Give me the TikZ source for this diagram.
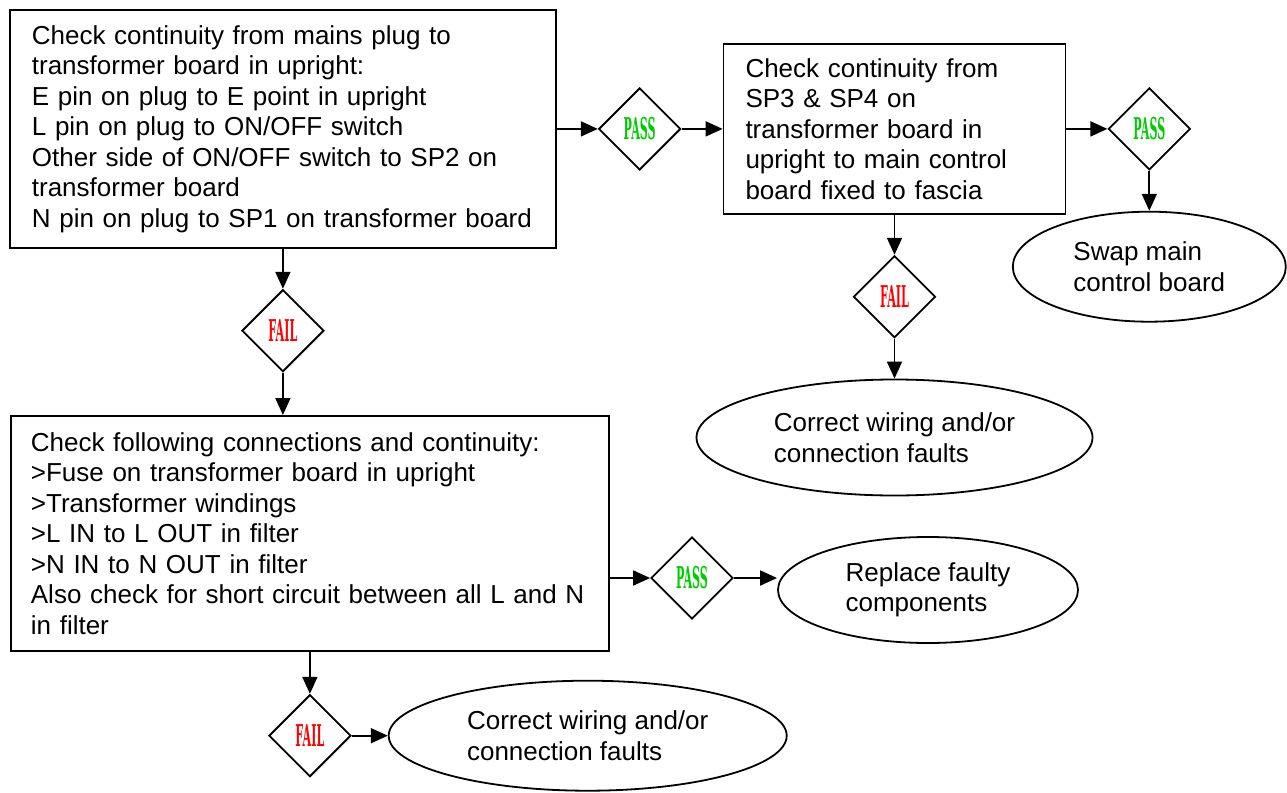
\documentclass[tikz,border=0pt]{standalone}
\usepackage{fontspec}
\setmainfont{Liberation Sans}
\newfontfamily\verdictfont{DejaVu Serif}
\usepackage{graphicx}
\usetikzlibrary{shapes.geometric, arrows.meta, positioning}
\usepackage{xcolor}
\definecolor{passgreen}{RGB}{0,204,0}
\definecolor{failred}{RGB}{255,0,0}
\newcommand{\verdict}[2]{\textcolor{#1}{\scalebox{0.37}[1]{\verdictfont\bfseries #2}}}

\begin{document}
\begin{tikzpicture}[
  x=1pt, y=-1pt,
  line width=1.8pt,
  node distance=41pt,
  check/.style={rectangle, draw, align=left, inner xsep=22pt, inner ysep=0pt, font=\fontsize{26}{30.5}\selectfont},
  decision/.style={diamond, draw, aspect=1, minimum width=82pt, minimum height=82pt, inner sep=0pt, font=\fontsize{30}{30}\selectfont},
  outcome/.style={ellipse, draw, align=left, inner sep=0pt, font=\fontsize{26}{30.5}\selectfont},
  >={Triangle[length=17pt, width=15pt]}
]
\useasboundingbox (0,0) rectangle (1287,792);

\node[check, anchor=north west, text width=502pt, minimum height=238pt] (mains) at (9,9)
  {Check continuity from mains plug to\\transformer board in upright:\\E pin on plug to E point in upright\\L pin on plug to ON/OFF switch\\Other side of ON/OFF switch to SP2 on\\transformer board\\N pin on plug to SP1 on transformer board};
\node[decision, right=of mains] (pass1) {\verdict{passgreen}{PASS}};
\node[check, right=of pass1, text width=298pt, minimum height=170pt] (spcheck)
  {Check continuity from\\SP3 \& SP4 on\\transformer board in\\upright to main control\\board fixed to fascia};
\node[decision, right=of spcheck] (pass2) {\verdict{passgreen}{PASS}};
\node[outcome, below=40pt of pass2, minimum width=273pt, minimum height=110pt] (swap) {Swap main\\control board};

\node[decision, below=40pt of spcheck] (fail2) {\verdict{failred}{FAIL}};
\node[outcome, below=40pt of fail2, minimum width=396pt, minimum height=116pt] (wiring1) {Correct wiring and/or\\connection faults};

\node[decision, below=40pt of mains] (fail1) {\verdict{failred}{FAIL}};
\node[check, anchor=north west, inner xsep=20pt, text width=558pt, minimum height=235pt] (filter) at (10,415)
  {Check following connections and continuity:\\>Fuse on transformer board in upright\\>Transformer windings\\>L IN to L OUT in filter\\>N IN to N OUT in filter\\Also check for short circuit between all L and N\\in filter};

\node[decision] (pass3) at (692,578) {\verdict{passgreen}{PASS}};
\node[outcome, minimum width=300pt, minimum height=106pt] (replace) at (928,590) {Replace faulty\\components};

\node[decision, below=42pt of filter] (fail3) {\verdict{failred}{FAIL}};
\node[outcome, right=36pt of fail3, minimum width=398pt, minimum height=110pt] (wiring2) {Correct wiring and/or\\connection faults};

\draw[->] (mains) -- (pass1);
\draw[->] (pass1) -- (spcheck);
\draw[->] (spcheck.east |- pass2) -- (pass2);
\draw[->] (pass2) -- (swap);
\draw[->] (spcheck) -- (fail2);
\draw[->] (fail2) -- (wiring1);

\draw[->] (mains) -- (fail1);
\draw[->] (fail1) -- (fail1 |- filter.north);
\draw[->] (filter.east |- pass3) -- (pass3);
\draw[->] (pass3) -- (pass3 -| replace.west);
\draw[->] (filter) -- (fail3);
\draw[->] (fail3) -- (wiring2);

\end{tikzpicture}
\end{document}
